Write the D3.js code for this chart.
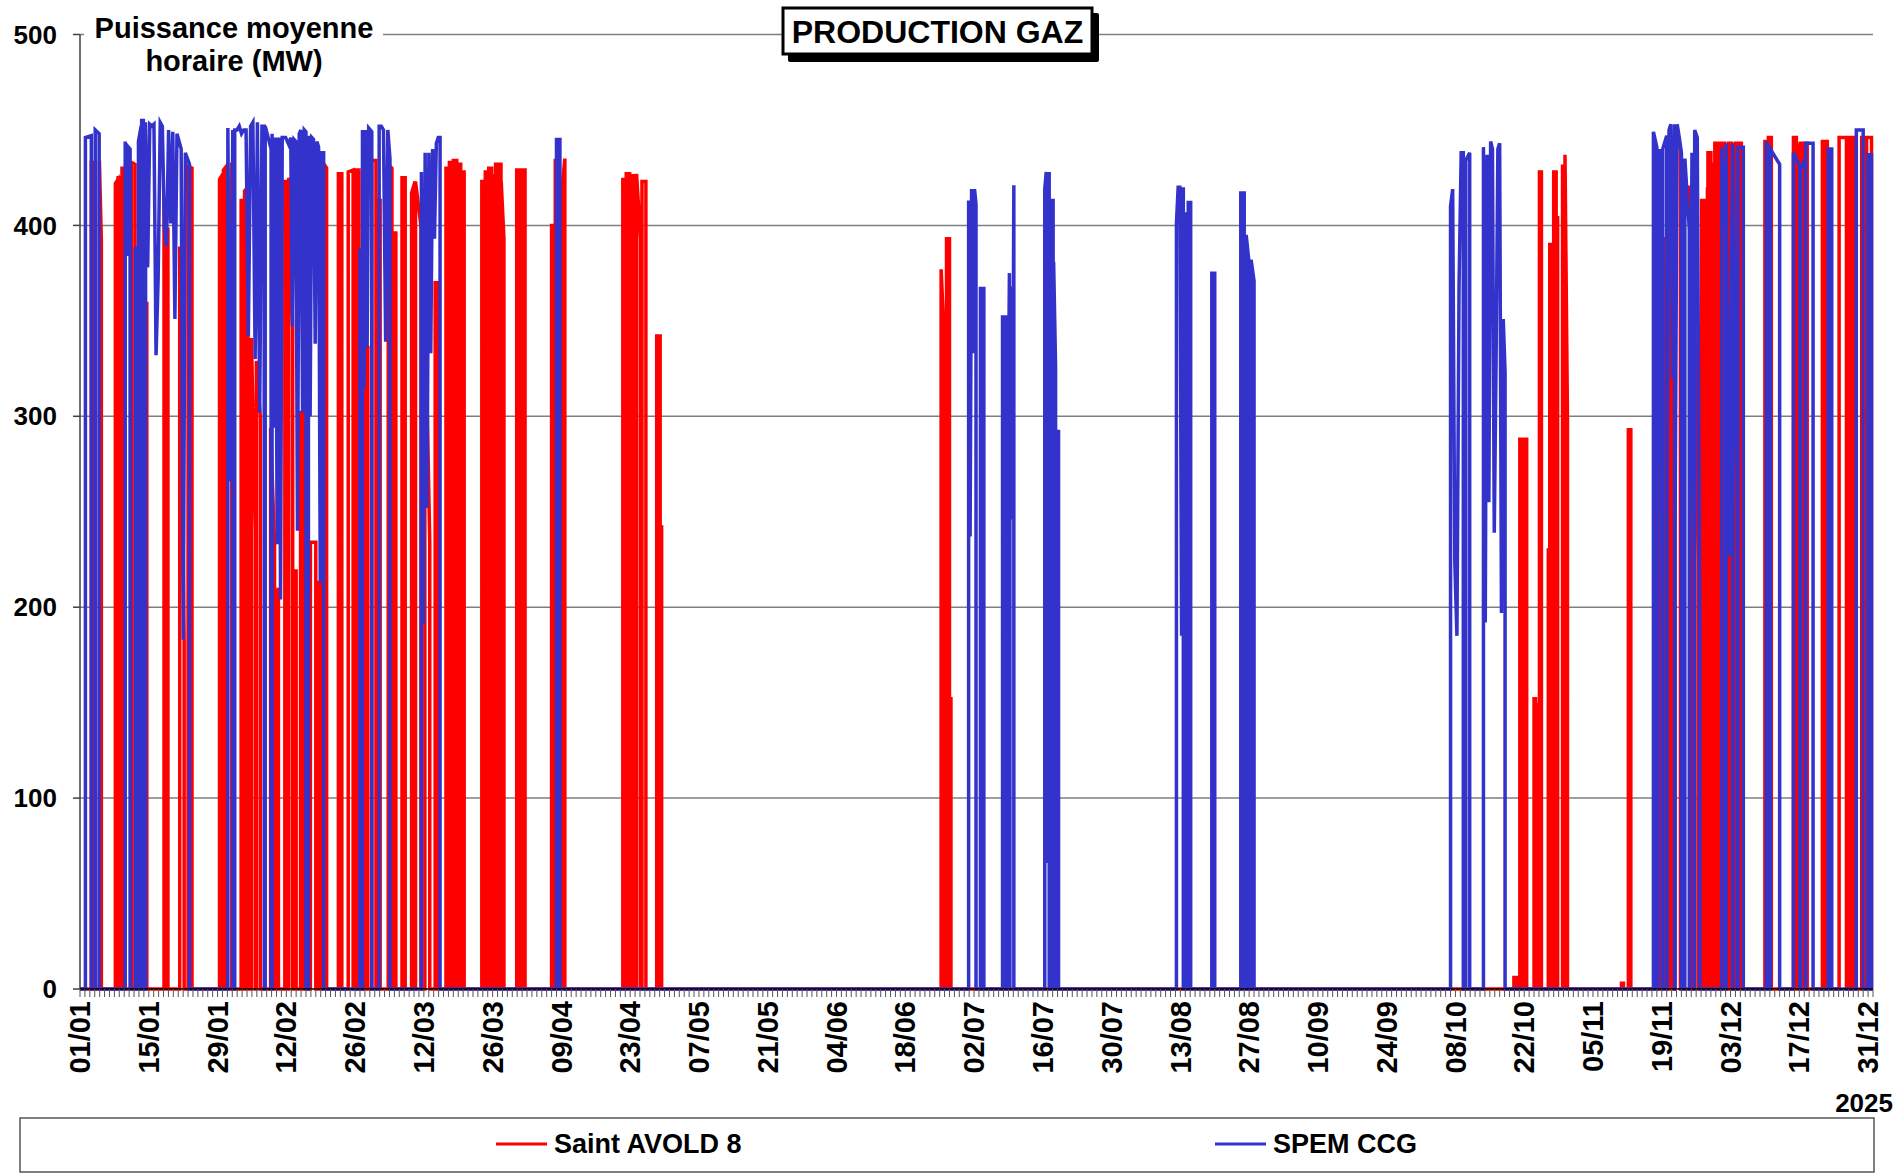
<!DOCTYPE html>
<html>
<head>
<meta charset="utf-8">
<script src="https://cdn.jsdelivr.net/npm/d3@7"></script>
<style>
  body { margin: 0; background: #fff; }
  text { font-family: "Liberation Sans", Arial, sans-serif; font-weight: bold; fill: #000; }
</style>
</head>
<body>
<svg id="chart" width="1898" height="1176"></svg>
<script>
// Common dimensions
const width = 1898, height = 1176;
const plot = { left: 80, right: 1873, top: 34.5, bottom: 989 };

// Axis content
const yTicks = [0, 100, 200, 300, 400, 500];
const dateLabels = ["01/01", "15/01", "29/01", "12/02", "26/02", "12/03", "26/03", "09/04", "23/04",
  "07/05", "21/05", "04/06", "18/06", "02/07", "16/07", "30/07", "13/08", "27/08", "10/09",
  "24/09", "08/10", "22/10", "05/11", "19/11", "03/12", "17/12", "31/12"];
const yearLabel = "2025";

// Operating runs: [start day, end day, MW levels across the run]
const saintAvold = [
  [2.3, 2.85, [433]], [3.95, 4.35, [434, 392]], [7.2, 7.7, [422, 424]], [7.75, 8.28, [425]],
  [8.55, 9.1, [430]], [10.45, 11.2, [433, 432]], [12.0, 12.4, [410]], [12.5, 12.95, [363]],
  [13.05, 13.6, [255, 360]], [17.1, 17.5, [414]], [17.6, 17.9, [398]], [20.3, 21.2, [389, 287, 183]],
  [22.0, 22.8, [431, 430]], [28.4, 29.1, [424, 427]], [29.2, 29.8, [429, 431]], [30.9, 31.4, [432]],
  [32.8, 33.4, [413]], [33.5, 34.2, [418, 420]], [34.9, 35.7, [341, 240]], [35.9, 36.7, [329, 300]],
  [38.8, 39.6, [294, 233]], [39.7, 40.4, [204, 210]], [41.7, 42.4, [423]], [42.5, 43.3, [425, 347]],
  [43.5, 44.0, [219]], [44.9, 45.5, [302]], [45.8, 46.3, [430]], [46.9, 48.0, [234, 234]],
  [48.2, 48.9, [213]], [49.2, 50.2, [434, 430]], [52.6, 53.3, [427]], [54.6, 55.6, [428, 429]],
  [56.2, 56.8, [429]], [56.9, 57.3, [374]], [58.0, 58.6, [336]], [59.4, 60.25, [434, 434]],
  [60.7, 61.1, [413]], [62.75, 63.5, [432, 430]], [63.6, 64.3, [396]], [65.55, 66.2, [425]],
  [67.5, 68.2, [417, 423]], [68.3, 69.4, [423, 400]], [70.2, 71.2, [370, 234]], [72.3, 72.9, [370]],
  [74.5, 75.1, [430]], [75.2, 75.9, [433]], [76.0, 76.7, [434]], [76.8, 77.5, [432]], [77.6, 78.2, [428]],
  [81.8, 82.4, [423]], [82.5, 83.1, [428]], [83.2, 83.8, [430]], [83.9, 84.5, [426]],
  [84.6, 85.2, [432]], [85.25, 85.7, [432]], [85.75, 86.3, [423, 393]],
  [88.9, 89.6, [429]], [90.0, 90.6, [429]], [96.0, 96.7, [400, 400]], [96.75, 97.0, [434]],
  [97.7, 98.0, [201]], [98.0, 98.7, [416, 435]],
  [110.5, 111.1, [424]], [111.2, 111.9, [427]], [112.0, 112.4, [426]], [112.5, 113.2, [426]],
  [113.3, 114.1, [427, 393]], [114.4, 115.2, [423]], [117.4, 118.1, [342, 342]], [118.1, 118.4, [242]],
  [175.3, 175.7, [377, 354]], [176.4, 177.0, [393, 393]], [177.0, 177.3, [152]],
  [291.9, 292.4, [6]], [293.1, 293.5, [288]], [294.0, 294.5, [288]], [296.0, 296.3, [152]],
  [296.35, 296.6, [149]], [297.1, 297.5, [428]], [298.9, 299.2, [230]], [299.2, 299.6, [390]],
  [300.0, 300.5, [428]], [300.5, 300.8, [404]], [301.8, 302.3, [431]], [302.3, 302.8, [437, 300]],
  [313.8, 314.2, [3]], [315.2, 315.7, [293]],
  [321.1, 321.7, [431, 315]], [322.3, 322.9, [393]], [323.3, 324.0, [446]], [324.1, 324.6, [446, 234]],
  [324.7, 325.8, [446, 440]], [327.7, 328.3, [420]], [328.4, 329.4, [414, 225]], [330.1, 330.7, [413]],
  [330.8, 331.3, [219, 420]], [331.4, 332.0, [438]], [332.1, 332.7, [432]], [332.8, 333.4, [443]],
  [333.5, 334.1, [443]], [334.2, 334.8, [443]], [334.9, 335.5, [440]], [335.6, 336.2, [443]],
  [336.3, 336.9, [231, 443]], [337.0, 337.6, [443]], [337.7, 338.2, [443]],
  [343.0, 343.6, [444]], [343.7, 344.3, [446]], [348.8, 349.4, [446]], [349.5, 350.1, [315, 443]],
  [350.2, 350.8, [443]], [351.0, 351.6, [443]], [354.7, 355.2, [444]], [355.3, 355.7, [444]],
  [358.1, 359.6, [446, 446]], [360.2, 360.6, [446]], [361.0, 361.5, [446]],
  [362.7, 363.6, [446]], [363.7, 364.7, [446]]
];

const spemCcg = [
  [1.1, 2.3, [446, 447]], [3.1, 3.9, [450, 448]], [9.2, 10.2, [444, 384, 441, 440]],
  [11.25, 11.8, [388]], [11.9, 12.45, [444, 452]], [12.55, 13.25, [455, 455, 250]],
  [13.35, 22.3, [454, 378, 453, 452, 453, 332, 372, 454, 452, 399, 389, 450, 401, 449, 351, 448, 444, 440, 183, 438, 435, 432]],
  [30.1, 31.1, [451, 266, 450]],
  [31.5, 37.5, [450, 450, 452, 448, 450, 450, 342, 452, 454, 330, 454, 302, 452, 452]],
  [37.7, 38.9, [452, 440]],
  [39.1, 46.0, [448, 294, 446, 233, 446, 204, 446, 446, 446, 444, 442, 446, 347, 445, 444, 240, 448, 450, 302, 450, 449]],
  [46.5, 49.6, [447, 300, 446, 445, 338, 444, 441, 213, 438, 438]],
  [57.0, 57.4, [387]], [57.5, 59.4, [450, 315, 450, 336, 451, 450, 449]],
  [60.9, 63.1, [452, 452, 450, 339, 450, 435]],
  [69.5, 73.3, [428, 191, 438, 252, 438, 333, 440, 393, 443, 446, 446]],
  [97.0, 97.7, [445, 445]],
  [180.9, 182.4, [413, 237, 419, 333, 419, 411]], [183.3, 184.0, [367, 367]],
  [187.8, 188.5, [352, 352]], [188.6, 189.2, [185, 375]], [189.3, 190.1, [317, 368, 246, 421]],
  [196.4, 197.3, [419, 428, 66, 428]], [197.4, 198.1, [414, 234, 414]], [198.2, 198.6, [381, 326]],
  [198.7, 199.2, [292]],
  [223.2, 224.6, [401, 420, 420, 185, 420]], [224.7, 225.3, [406]], [225.6, 226.1, [412]],
  [230.4, 231.0, [375]], [236.3, 237.0, [417]], [237.4, 238.0, [395, 380]], [238.4, 239.0, [382, 371]],
  [279.0, 281.6, [410, 419, 224, 185, 369, 438, 438]], [282.1, 282.9, [434, 438]],
  [285.7, 290.1, [441, 192, 437, 255, 444, 440, 239, 327, 440, 443, 197, 351, 323]],
  [320.3, 321.0, [449, 441]], [321.2, 322.1, [275, 440, 183]], [322.2, 323.0, [440, 447]],
  [323.1, 324.6, [270, 450, 453, 320, 453]], [324.7, 326.0, [240, 453, 446, 438]],
  [326.7, 327.6, [435, 398]], [327.7, 328.6, [219, 438, 225]], [328.7, 329.75, [450, 446, 183]],
  [334.2, 335.0, [441, 396]], [335.1, 336.4, [443, 227, 443]], [336.5, 337.4, [440, 251]],
  [337.5, 338.6, [441, 441]],
  [343.3, 344.0, [444, 431]], [344.1, 346.0, [440, 432]],
  [348.8, 350.1, [438, 431]], [350.2, 351.2, [429, 435]], [351.3, 352.8, [443, 443]],
  [355.9, 356.6, [440]], [361.6, 363.0, [450, 450]], [364.0, 364.7, [437]]
];

const legendItems = [
  { name: "Saint AVOLD 8", color: "#ff0000", x: 496 },
  { name: "SPEM CCG", color: "#3333cc", x: 1215 }
];

const svg = d3.select("#chart");

const x = d3.scaleLinear().domain([0, 365]).range([plot.left, plot.right]);
const y = d3.scaleLinear().domain([0, 500]).range([plot.bottom, plot.top]);

// Gridlines
svg.append("g")
  .selectAll("line")
  .data(yTicks.filter(d => d > 0))
  .join("line")
  .attr("x1", plot.left).attr("x2", plot.right)
  .attr("y1", d => y(d)).attr("y2", d => y(d))
  .attr("stroke", "#7f7f7f")
  .attr("stroke-width", 1.5);

// Turn runs into a line path: zero between runs
function runsToPoints(runs) {
  const pts = [[0, 0]];
  runs.forEach(([s, e, levels]) => {
    pts.push([s, 0]);
    if (levels.length === 1) {
      pts.push([s, levels[0]], [e, levels[0]]);
    } else {
      levels.forEach((v, i) => pts.push([s + (e - s) * i / (levels.length - 1), v]));
    }
    pts.push([e, 0]);
  });
  pts.push([365, 0]);
  return pts;
}

const line = d3.line().x(d => x(d[0])).y(d => y(d[1]));

svg.append("path")
  .attr("d", line(runsToPoints(saintAvold)))
  .attr("fill", "none")
  .attr("stroke", legendItems[0].color)
  .attr("stroke-width", 3.5)
  .attr("stroke-linejoin", "miter");

svg.append("path")
  .attr("d", line(runsToPoints(spemCcg)))
  .attr("fill", "none")
  .attr("stroke", legendItems[1].color)
  .attr("stroke-width", 3.5)
  .attr("stroke-linejoin", "miter");

// Y axis
svg.append("line")
  .attr("x1", plot.left).attr("x2", plot.left)
  .attr("y1", plot.top).attr("y2", plot.bottom)
  .attr("stroke", "#404040").attr("stroke-width", 1.5);

const yAxis = svg.append("g");
yAxis.selectAll("line")
  .data(yTicks)
  .join("line")
  .attr("x1", plot.left - 7).attr("x2", plot.left)
  .attr("y1", d => y(d)).attr("y2", d => y(d))
  .attr("stroke", "#404040").attr("stroke-width", 1.5);
yAxis.selectAll("text")
  .data(yTicks)
  .join("text")
  .attr("x", 57)
  .attr("y", d => y(d))
  .attr("dy", "0.35em")
  .attr("text-anchor", "end")
  .style("font-size", "26px")
  .text(d => d);

// X axis with a tick every day
svg.append("line")
  .attr("x1", plot.left).attr("x2", plot.right)
  .attr("y1", plot.bottom).attr("y2", plot.bottom)
  .attr("stroke", "#000").attr("stroke-width", 1.5);

svg.append("g")
  .selectAll("line")
  .data(d3.range(0, 366))
  .join("line")
  .attr("x1", d => x(d)).attr("x2", d => x(d))
  .attr("y1", plot.bottom).attr("y2", plot.bottom + 8)
  .attr("stroke", "#555").attr("stroke-width", 1);

svg.append("g")
  .selectAll("text")
  .data(dateLabels)
  .join("text")
  .attr("transform", (d, i) => `translate(${x(i * 14)},1001) rotate(-90)`)
  .attr("dy", "0.35em")
  .attr("text-anchor", "end")
  .style("font-size", "29px")
  .text(d => d);

svg.append("text")
  .attr("x", 1893).attr("y", 1112)
  .attr("text-anchor", "end")
  .style("font-size", "26px")
  .text(yearLabel);

// Y axis title on white
svg.append("rect")
  .attr("x", 84).attr("y", 8).attr("width", 299).attr("height", 74)
  .attr("fill", "#fff");
const yTitle = svg.append("text")
  .attr("text-anchor", "middle")
  .style("font-size", "29px");
yTitle.append("tspan").attr("x", 234).attr("y", 38).text("Puissance moyenne");
yTitle.append("tspan").attr("x", 234).attr("y", 71).text("horaire (MW)");

// Title box with shadow
svg.append("rect")
  .attr("x", 788).attr("y", 13).attr("width", 311).attr("height", 49)
  .attr("fill", "#000").attr("rx", 2);
svg.append("rect")
  .attr("x", 783).attr("y", 8).attr("width", 309).attr("height", 46)
  .attr("fill", "#fff").attr("stroke", "#000").attr("stroke-width", 3);
svg.append("text")
  .attr("x", 937.5).attr("y", 43)
  .attr("text-anchor", "middle")
  .style("font-size", "32px")
  .text("PRODUCTION GAZ");

// Legend
svg.append("rect")
  .attr("x", 20).attr("y", 1118).attr("width", 1854).attr("height", 54)
  .attr("fill", "#fff").attr("stroke", "#555").attr("stroke-width", 1.5);

const legend = svg.append("g");
legendItems.forEach(item => {
  legend.append("line")
    .attr("x1", item.x).attr("x2", item.x + 51)
    .attr("y1", 1144).attr("y2", 1144)
    .attr("stroke", item.color).attr("stroke-width", 3);
  legend.append("text")
    .attr("x", item.x + 58).attr("y", 1153)
    .style("font-size", "27px")
    .text(item.name);
});
</script>
</body>
</html>
